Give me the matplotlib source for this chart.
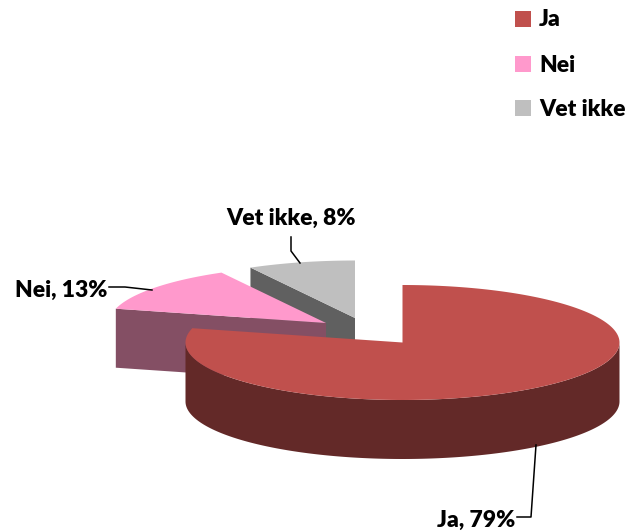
#!/usr/bin/env python3
"""Exploded 3D style pie chart, drawn in pixel space of the figure."""

import numpy as np
import matplotlib
matplotlib.use("Agg")
import matplotlib.pyplot as plt
from matplotlib.patches import Polygon, Rectangle

categories = ["Ja", "Nei", "Vet ikke"]
shares = [79, 13, 8]

top_colors = ["#C0504D", "#FF99CC", "#BFBFBF"]
side_colors = ["#632928", "#844F64", "#606060"]

# centre of each exploded slice, in pixels
centers = [(402.5, 342.5), (326, 323), (355, 318)]
RX, RY = 217, 57.5
DEPTH = 59

plt.rcParams["font.family"] = ["Lato", "DejaVu Sans"]
plt.rcParams["font.weight"] = "heavy"
FONT_SIZE = 16.5


def rim(center, start, end):
    """Points on the ellipse, angles are degrees clockwise from 12 o'clock."""
    a = np.radians(np.linspace(start, end, 200))
    return np.column_stack([center[0] + RX * np.sin(a), center[1] - RY * np.cos(a)])


fig = plt.figure(figsize=(6.26, 5.31), dpi=100)
ax = fig.add_axes([0, 0, 1, 1])
ax.set_xlim(0, 626)
ax.set_ylim(531, 0)
ax.axis("off")

edges = np.concatenate([[0], np.cumsum(shares)]) * 360 / sum(shares)

# back slices first so the big slice ends up in front
for i in [2, 1, 0]:
    start, end = edges[i], edges[i + 1]
    c = np.array(centers[i])
    arc = rim(c, start, end)
    if i == 0:
        # outer wall, only the front half of the rim shows
        front = rim(c, 90, 270)
        wall = np.vstack([front, (front + [0, DEPTH])[::-1]])
    else:
        # cut face running from the centre to the slice start
        p = arc[0]
        wall = np.array([p, c, c + [0, DEPTH], p + [0, DEPTH]])
    ax.add_patch(Polygon(wall, closed=True, fc=side_colors[i], ec="none"))
    ax.add_patch(Polygon(np.vstack([c, arc]), closed=True, fc=top_colors[i], ec="none"))

# leader lines
ax.plot([109, 125, 152], [287, 287, 290], color="black", lw=1.1)
ax.plot([291, 291, 300], [237, 251, 263], color="black", lw=1.1)
ax.plot([536, 531, 517], [445, 517, 517], color="black", lw=1.1)

# data labels
ax.text(291, 218, f"{categories[2]}, {shares[2]}%", ha="center", va="center", fontsize=FONT_SIZE)
ax.text(107, 290, f"{categories[1]}, {shares[1]}%", ha="right", va="center", fontsize=FONT_SIZE)
ax.text(515, 520, f"{categories[0]}, {shares[0]}%", ha="right", va="center", fontsize=FONT_SIZE)

# legend
for name, color, y in zip(categories, top_colors, [19, 64, 108]):
    ax.add_patch(Rectangle((515, y - 8), 16, 16, fc=color, ec="none"))
    ax.text(539, y + 1, name, ha="left", va="center", fontsize=FONT_SIZE)

fig.savefig("out.png", dpi=100)
